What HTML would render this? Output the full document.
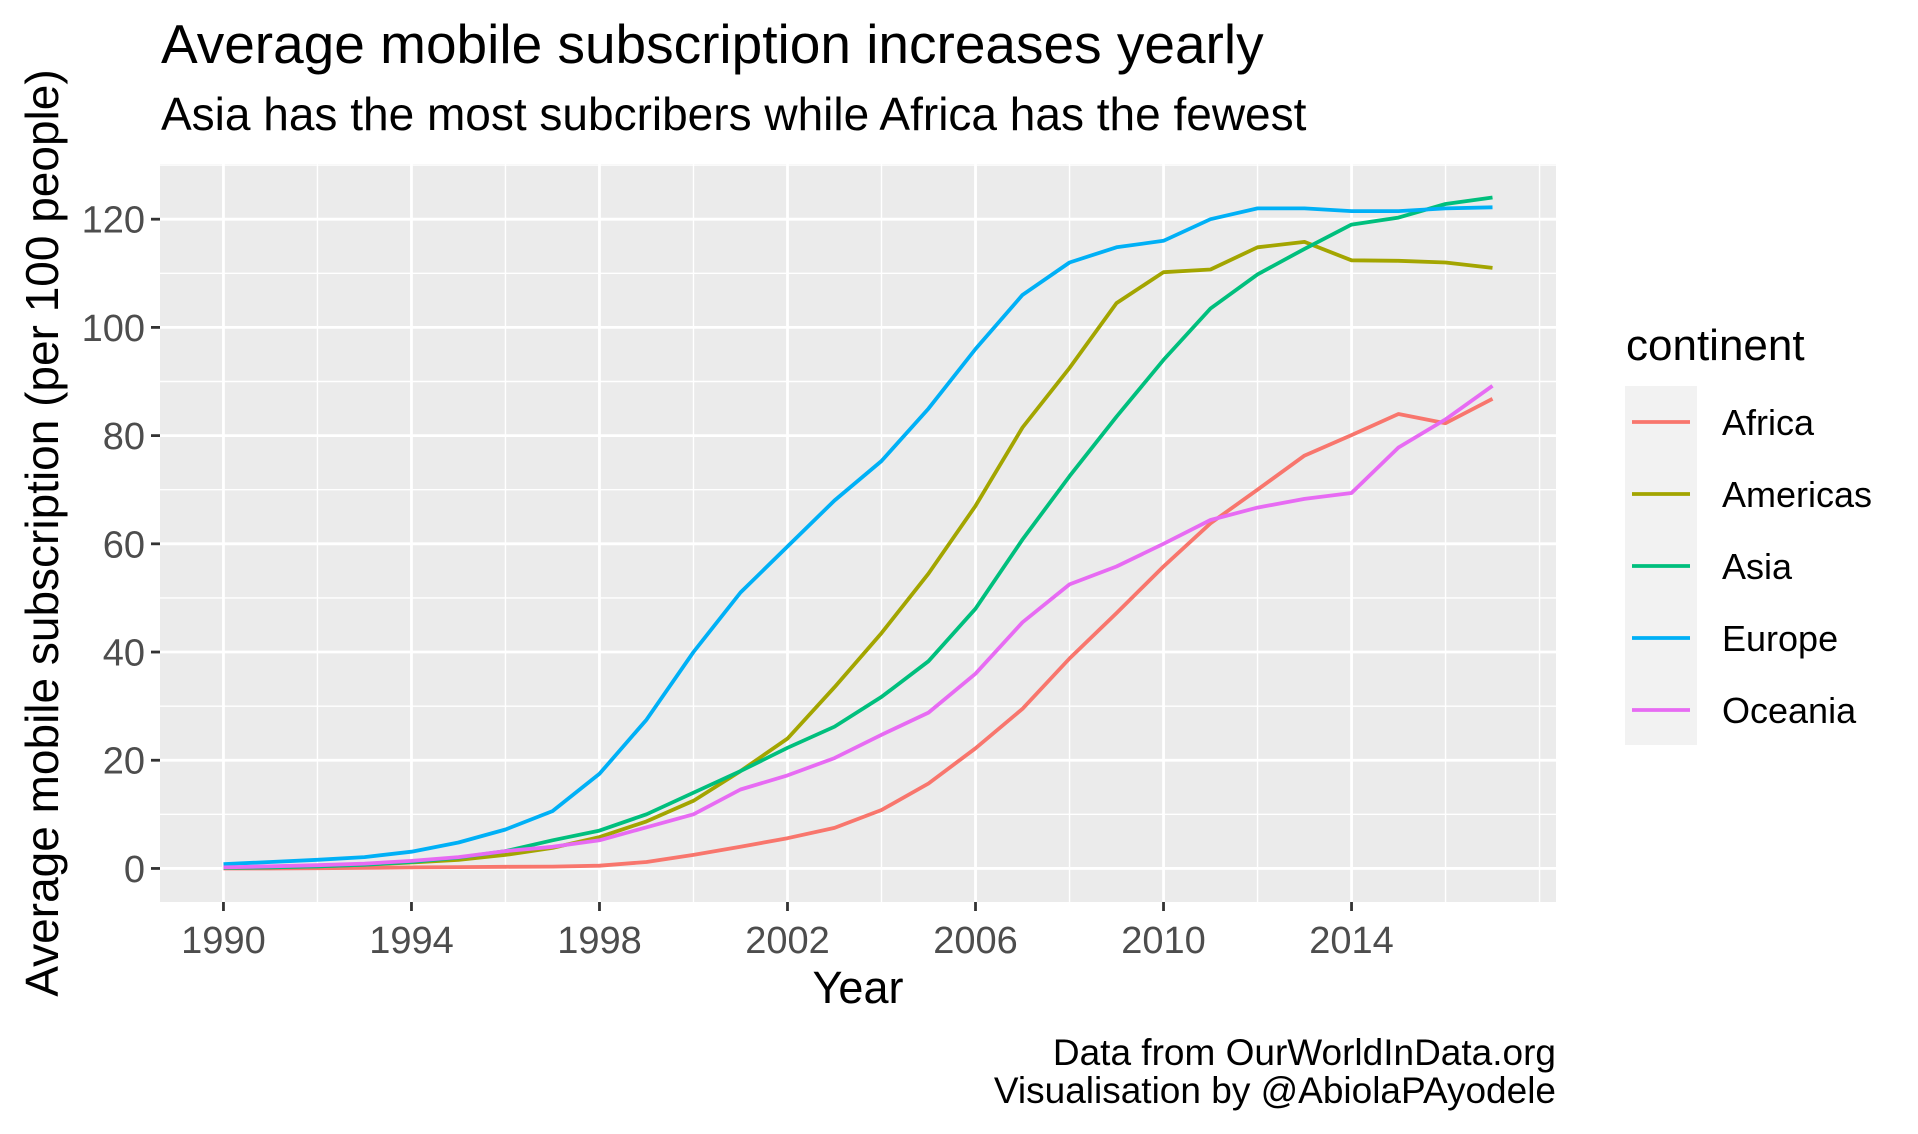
<!DOCTYPE html>
<html><head><meta charset="utf-8"><style>
body{margin:0;background:#fff}
svg{display:block;font-family:"Liberation Sans",Arial,sans-serif}
</style></head><body>
<svg id="chart" width="1918" height="1134" viewBox="0 0 1918 1134" xmlns="http://www.w3.org/2000/svg">
<rect width="1918" height="1134" fill="#fff"/>
<text x="161" y="63" font-size="55" fill="#000">Average mobile subscription increases yearly</text>
<text x="161" y="130" font-size="46" fill="#000">Asia has the most subcribers while Africa has the fewest</text>
<rect x="160" y="164" width="1396" height="738" fill="#EBEBEB"/>
<g id="grid"></g>
<g id="series"></g>
<g id="axes"></g>
<text x="858" y="1003" font-size="45" text-anchor="middle" fill="#000">Year</text>
<text transform="translate(58,533) rotate(-90)" font-size="46" text-anchor="middle" fill="#000">Average mobile subscription (per 100 people)</text>
<g>
<text x="1626" y="360" font-size="44" fill="#000">continent</text>
<rect x="1625" y="386" width="72" height="359" fill="#F2F2F2"/>
<g id="legend-entries"></g>
</g>
<text x="1556" y="1065" font-size="37" text-anchor="end" fill="#000">Data from OurWorldInData.org</text>
<text x="1556" y="1103" font-size="37" text-anchor="end" fill="#000">Visualisation by @AbiolaPAyodele</text>
</svg>
<script>
const years = [1990,1991,1992,1993,1994,1995,1996,1997,1998,1999,2000,2001,2002,2003,2004,2005,2006,2007,2008,2009,2010,2011,2012,2013,2014,2015,2016,2017];
const seriesNames = ["Africa","Americas","Asia","Europe","Oceania"];
const seriesColors = ["#F8766D","#A3A500","#00BF7D","#00B0F6","#E76BF3"];
const africa = [0,0,0.05,0.1,0.2,0.25,0.3,0.35,0.5,1.2,2.5,4,5.6,7.5,10.8,15.7,22.2,29.5,38.8,47.2,55.8,63.8,70,76.3,80.1,84,82.3,86.8];
const americas = [0.1,0.2,0.4,0.7,1.1,1.6,2.5,3.8,5.8,8.7,12.5,18,24,33.5,43.5,54.5,67,81.5,92.5,104.5,110.2,110.7,114.8,115.8,112.4,112.3,112,111];
const asia = [0.1,0.2,0.4,0.7,1.2,2,3.2,5.2,7,10,14,18,22.3,26.2,31.7,38.3,48,60.8,72.5,83.5,94,103.5,109.8,114.5,119,120.3,122.8,124];
const europe = [0.8,1.2,1.6,2.1,3.1,4.8,7.2,10.6,17.5,27.5,40,51,59.5,68,75.3,85,96,106,112,114.8,116,120,122,122,121.5,121.5,122,122.2];
const oceania = [0.2,0.4,0.6,0.9,1.4,2.1,3.2,4,5.2,7.6,10,14.6,17.2,20.4,24.7,28.8,36,45.5,52.5,55.8,60,64.4,66.7,68.3,69.4,77.8,83,89.2];
const xTicks = [1990,1994,1998,2002,2006,2010,2014];
const xMinor = [1992,1996,2000,2004,2008,2012,2016,2018];
const yTicks = [0,20,40,60,80,100,120];
const yMinor = [10,30,50,70,90,110,130];

const NS = "http://www.w3.org/2000/svg";
const PL=160, PR=1556, PT=164, PB=902;
const xDom=[1988.65,2018.35], yDom=[-6.2,130.2];
function xs(v){return PL+(v-xDom[0])/(xDom[1]-xDom[0])*(PR-PL);}
function ys(v){return PB-(v-yDom[0])/(yDom[1]-yDom[0])*(PB-PT);}
function mk(tag, attrs, parent){const e=document.createElementNS(NS,tag);for(const k in attrs)e.setAttribute(k,attrs[k]);parent.appendChild(e);return e;}

const grid=document.getElementById('grid');
xMinor.forEach(v=>{const l=mk('line',{x1:xs(v),x2:xs(v),y1:PT,y2:PB,stroke:'#fff','stroke-width':1.4},grid);

});
yMinor.forEach(v=>{const l=mk('line',{x1:PL,x2:PR,y1:ys(v),y2:ys(v),stroke:'#fff','stroke-width':1.4},grid);

});
xTicks.forEach(v=>{const l=mk('line',{x1:xs(v),x2:xs(v),y1:PT,y2:PB,stroke:'#fff','stroke-width':2.8},grid);

});
yTicks.forEach(v=>{const l=mk('line',{x1:PL,x2:PR,y1:ys(v),y2:ys(v),stroke:'#fff','stroke-width':2.8},grid);

});

const axes=document.getElementById('axes');
xTicks.forEach(v=>{
const t=mk('line',{x1:xs(v),x2:xs(v),y1:PB,y2:PB+9,stroke:'#333','stroke-width':2.8},axes);


const tx=mk('text',{x:xs(v),y:953,'font-size':38,'text-anchor':'middle',fill:'#4D4D4D'},axes);
tx.textContent=v;


});
yTicks.forEach(v=>{
const t=mk('line',{x1:PL-9,x2:PL,y1:ys(v),y2:ys(v),stroke:'#333','stroke-width':2.8},axes);


const tx=mk('text',{x:PL-15,y:ys(v)+13.5,'font-size':38,'text-anchor':'end',fill:'#4D4D4D'},axes);
tx.textContent=v;


});

const data=[africa,americas,asia,europe,oceania];
const sg=document.getElementById('series');
data.forEach((arr,i)=>{
const pts=arr.map((v,j)=>xs(years[j]).toFixed(1)+','+ys(v).toFixed(1)).join(' ');
const p=mk('polyline',{points:pts,fill:'none',stroke:seriesColors[i],'stroke-width':3.8,'stroke-linejoin':'round'},sg);


});

const lg=document.getElementById('legend-entries');
seriesNames.forEach((n,i)=>{
const cy=422+i*72;
const l=mk('line',{x1:1632,x2:1690,y1:cy,y2:cy,stroke:seriesColors[i],'stroke-width':3.8},lg);


const t=mk('text',{x:1722,y:cy+13,'font-size':36,fill:'#000'},lg);
t.textContent=n;


});
</script>
</body></html>
